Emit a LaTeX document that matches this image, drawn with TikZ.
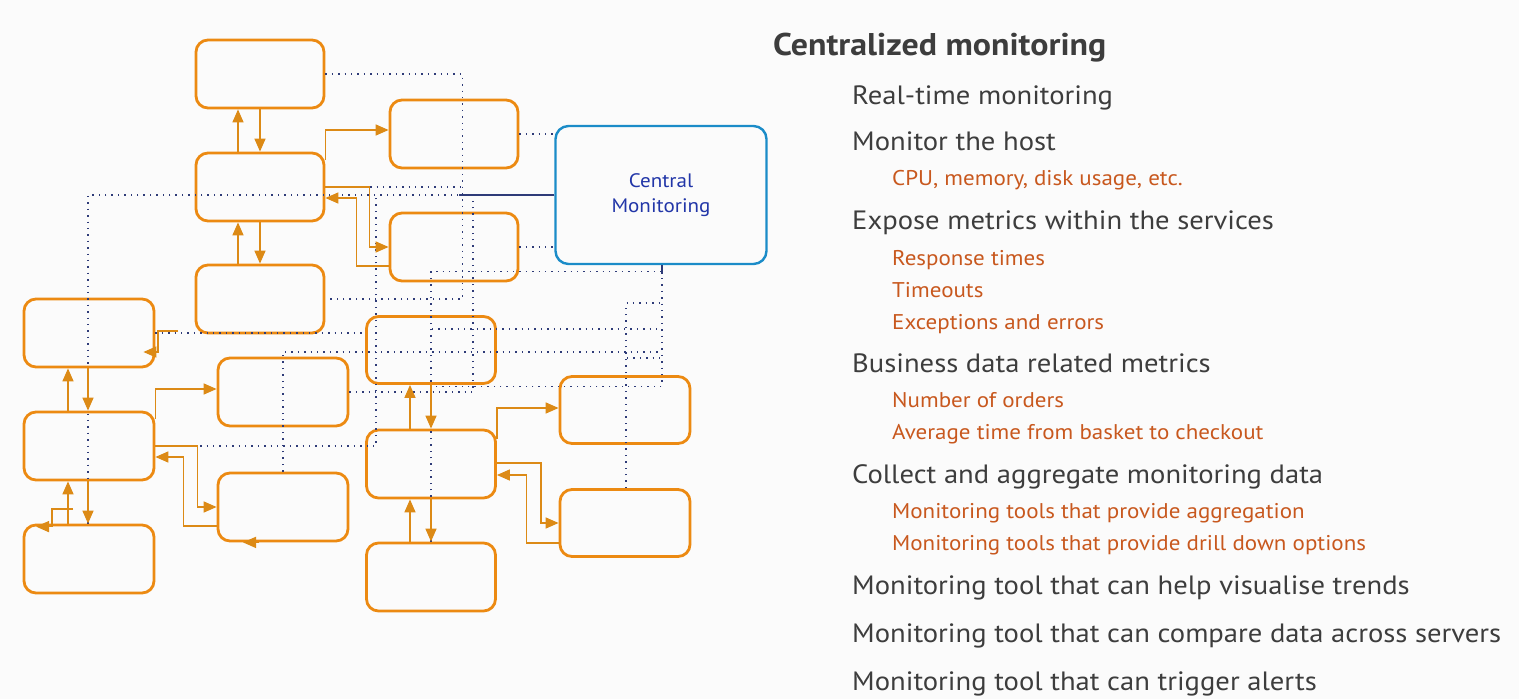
\documentclass[tikz,border=0pt]{standalone}
\usepackage{fontspec}
\setmainfont[FakeStretch=1.08]{PT Sans}
\usetikzlibrary{arrows.meta,calc}
\definecolor{boxorange}{HTML}{EC8A12}
\definecolor{arrorange}{HTML}{DC8A16}
\definecolor{navy}{HTML}{2E3B78}
\definecolor{cmblue}{HTML}{1B8CC8}
\definecolor{cmtext}{HTML}{2236A8}
\definecolor{maingray}{HTML}{3D3D3D}
\definecolor{suborange}{HTML}{C8581E}
\definecolor{bg}{HTML}{FBFBFB}
\tikzset{
  svc/.style={draw=boxorange, line width=2.8pt, rounded corners=12pt, minimum width=128pt, minimum height=68pt, inner sep=0pt},
  cmbox/.style={draw=cmblue, line width=2.4pt, rounded corners=13pt, minimum width=211pt, minimum height=138pt, inner sep=0pt, align=center, text=cmtext, font=\fontsize{19.5}{25}\selectfont},
  arr/.style={draw=arrorange, line width=1.5pt, -{Triangle[length=13pt,width=11pt]}},
  dotline/.style={draw=navy, line width=1.3pt, dash pattern=on 1.4pt off 5pt},
  solidnavy/.style={draw=navy, line width=1.2pt},
  ttl/.style={anchor=base west, inner sep=0pt, text=maingray, font=\fontsize{31.4}{36}\selectfont\bfseries},
  mainitem/.style={anchor=base west, inner sep=0pt, text=maingray, font=\fontsize{26.5}{30}\selectfont},
  subitem/.style={anchor=base west, inner sep=0pt, text=suborange, font=\fontsize{21.3}{26}\selectfont},
}
\begin{document}
\begin{tikzpicture}[x=1pt,y=-1pt]
\fill[bg] (0,0) rectangle (1519,699);
\useasboundingbox (0,0) rectangle (1519,699);

\coordinate (v376) at (376,195);
\coordinate (v473) at (473,195);
\coordinate (h329a) at (432,329);
\coordinate (h329b) at (662,329);
\coordinate (h358a) at (627,358);
\coordinate (h358b) at (662,358);

% boxes
\node[svc] (A) at (260,74) {};
\node[svc] (B) at (260,187) {};
\node[svc] (C) at (260,299) {};
\node[svc] (D) at (454,134) {};
\node[svc] (E) at (454,247) {};
\node[svc, minimum width=130pt] (F) at (89,333) {};
\node[svc, minimum width=130pt] (G) at (283,392) {};
\node[svc, minimum width=129pt, minimum height=67pt] (H) at (431,350) {};
\node[svc, minimum width=130pt] (I) at (89,446) {};
\node[svc, minimum width=130pt] (J) at (283,507) {};
\node[svc, minimum width=129pt] (K) at (431,464) {};
\node[svc, minimum width=130pt, minimum height=67pt] (L) at (625,410) {};
\node[svc, minimum width=130pt] (M) at (89,559) {};
\node[svc, minimum width=130pt, minimum height=67pt] (N) at (625,523) {};
\node[svc, minimum width=129pt] (O) at (431,577) {};
\node[cmbox] (CM) at (661,195) {Central\\Monitoring};

% dotted lines
\draw[dotline] (A.east) -- ++(137,0) |- (C.east);
\draw[dotline] (B.east) -- ++(137,0);
\draw[dotline] (CM.west) -| ([xshift=-1pt]M.north);
\draw[solidnavy] (CM.west) -- ++(-95,0);
\draw[dotline] (I.east) -| (v376);
\draw[dotline] (G.east) -| (v473);
\draw[dotline] (D.east) -- (D.east -| CM.west);
\draw[dotline] (E.east) -- (E.east -| CM.west);
\draw[dotline] (O.north) -- ++(0,-270) -| ([xshift=1pt]CM.south);
\draw[solidnavy] ([xshift=1pt]CM.south) -- ++(0,9);
\draw[dotline] ([xshift=1pt]CM.south) -- ++(0,121) -- ++(-231,0);
\draw[dotline] (h329a) -- (h329b);
\draw[dotline] (F.east) -- (F.east -| H.west);
\draw[dotline] (J.north) |- (h329b |- 0,352);
\draw[dotline] ([xshift=1pt]N.north) |- (h329b |- 0,303);
\draw[dotline] (h358a) -- (h358b);

% orange connectors
\draw[arr] ([xshift=-22pt]B.north) -- ([xshift=-22pt]A.south);
\draw[arr] (A.south) -- (B.north);
\draw[arr] ([xshift=-22pt]C.north) -- ([xshift=-22pt]B.south);
\draw[arr] (B.south) -- (C.north);
\draw[arr] ([yshift=-8pt]B.north east) |- ([yshift=4pt]D.west);
\draw[arr] (B.east) -- ++(44,0) |- (E.west);
\draw[arr] ([yshift=-19pt]E.west) -- ++(-32,0) |- ([yshift=-11pt]B.east);

\coordinate (f1) at (178,331);
\draw[arr] (f1) -- ++(-20,0) |- ([xshift=-12pt,yshift=-19pt]F.east);
\draw[arr] ([xshift=-21pt]I.north) -- ([xshift=-21pt]F.south);
\draw[arr] ([xshift=-1pt]F.south) -- ([xshift=-1pt]I.north);
\draw[arr] ([yshift=-8pt]I.north east) |- ([yshift=3pt]G.west);
\draw[arr] (I.east) -- ++(42,0) |- (J.west);
\draw[arr] ([yshift=-19pt]J.west) -- ++(-33,0) |- ([yshift=-11pt]I.east);
\draw[arr] ([xshift=-21pt]M.north) -- ([xshift=-21pt]I.south);
\draw[arr] ([xshift=-1pt]I.south) -- ([xshift=-1pt]M.north);
\coordinate (m1) at (73,509);
\draw[arr] (m1) -- ++(-21,0) |- ([xshift=-53pt,yshift=-3pt]M.north);
\draw[arr] ([xshift=-24pt]J.south) -- ([xshift=-40pt]J.south);

\draw[arr] ([xshift=-21pt]K.north) -- ([xshift=-21pt]H.south);
\draw[arr] (H.south) -- (K.north);
\draw[arr] ([yshift=-10pt]K.north east) |- ([yshift=2pt]L.west);
\draw[arr] ([yshift=1pt]K.east) -- ++(44,0) |- (N.west);
\draw[arr] ([yshift=-20pt]N.west) -- ++(-32,0) |- ([yshift=-11pt]K.east);
\draw[arr] ([xshift=-21pt]O.north) -- ([xshift=-21pt]K.south);
\draw[arr] (K.south) -- (O.north);

% text
\node[ttl] (t0) at (773,55) {Centralized monitoring};
\node[mainitem] (t1) at (852,104) {Real-time monitoring};
\node[mainitem] (t2) at (852,150) {Monitor the host};
\node[subitem] (s1) at (892,185) {CPU, memory, disk usage, etc.};
\node[mainitem] (t3) at (852,229) {Expose metrics within the services};
\node[subitem] (s2) at (892,265) {Response times};
\node[subitem] (s3) at (892,297) {Timeouts};
\node[subitem] (s4) at (892,329) {Exceptions and errors};
\node[mainitem] (t4) at (852,372) {Business data related metrics};
\node[subitem] (s5) at (892,407) {Number of orders};
\node[subitem] (s6) at (892,439) {Average time from basket to checkout};
\node[mainitem] (t5) at (852,483) {Collect and aggregate monitoring data};
\node[subitem] (s7) at (892,518) {Monitoring tools that provide aggregation};
\node[subitem] (s8) at (892,550) {Monitoring tools that provide drill down options};
\node[mainitem] (t6) at (852,594) {Monitoring tool that can help visualise trends};
\node[mainitem] (t7) at (852,642) {Monitoring tool that can compare data across servers};
\node[mainitem] (t8) at (852,690) {Monitoring tool that can trigger alerts};
\end{tikzpicture}
\end{document}
